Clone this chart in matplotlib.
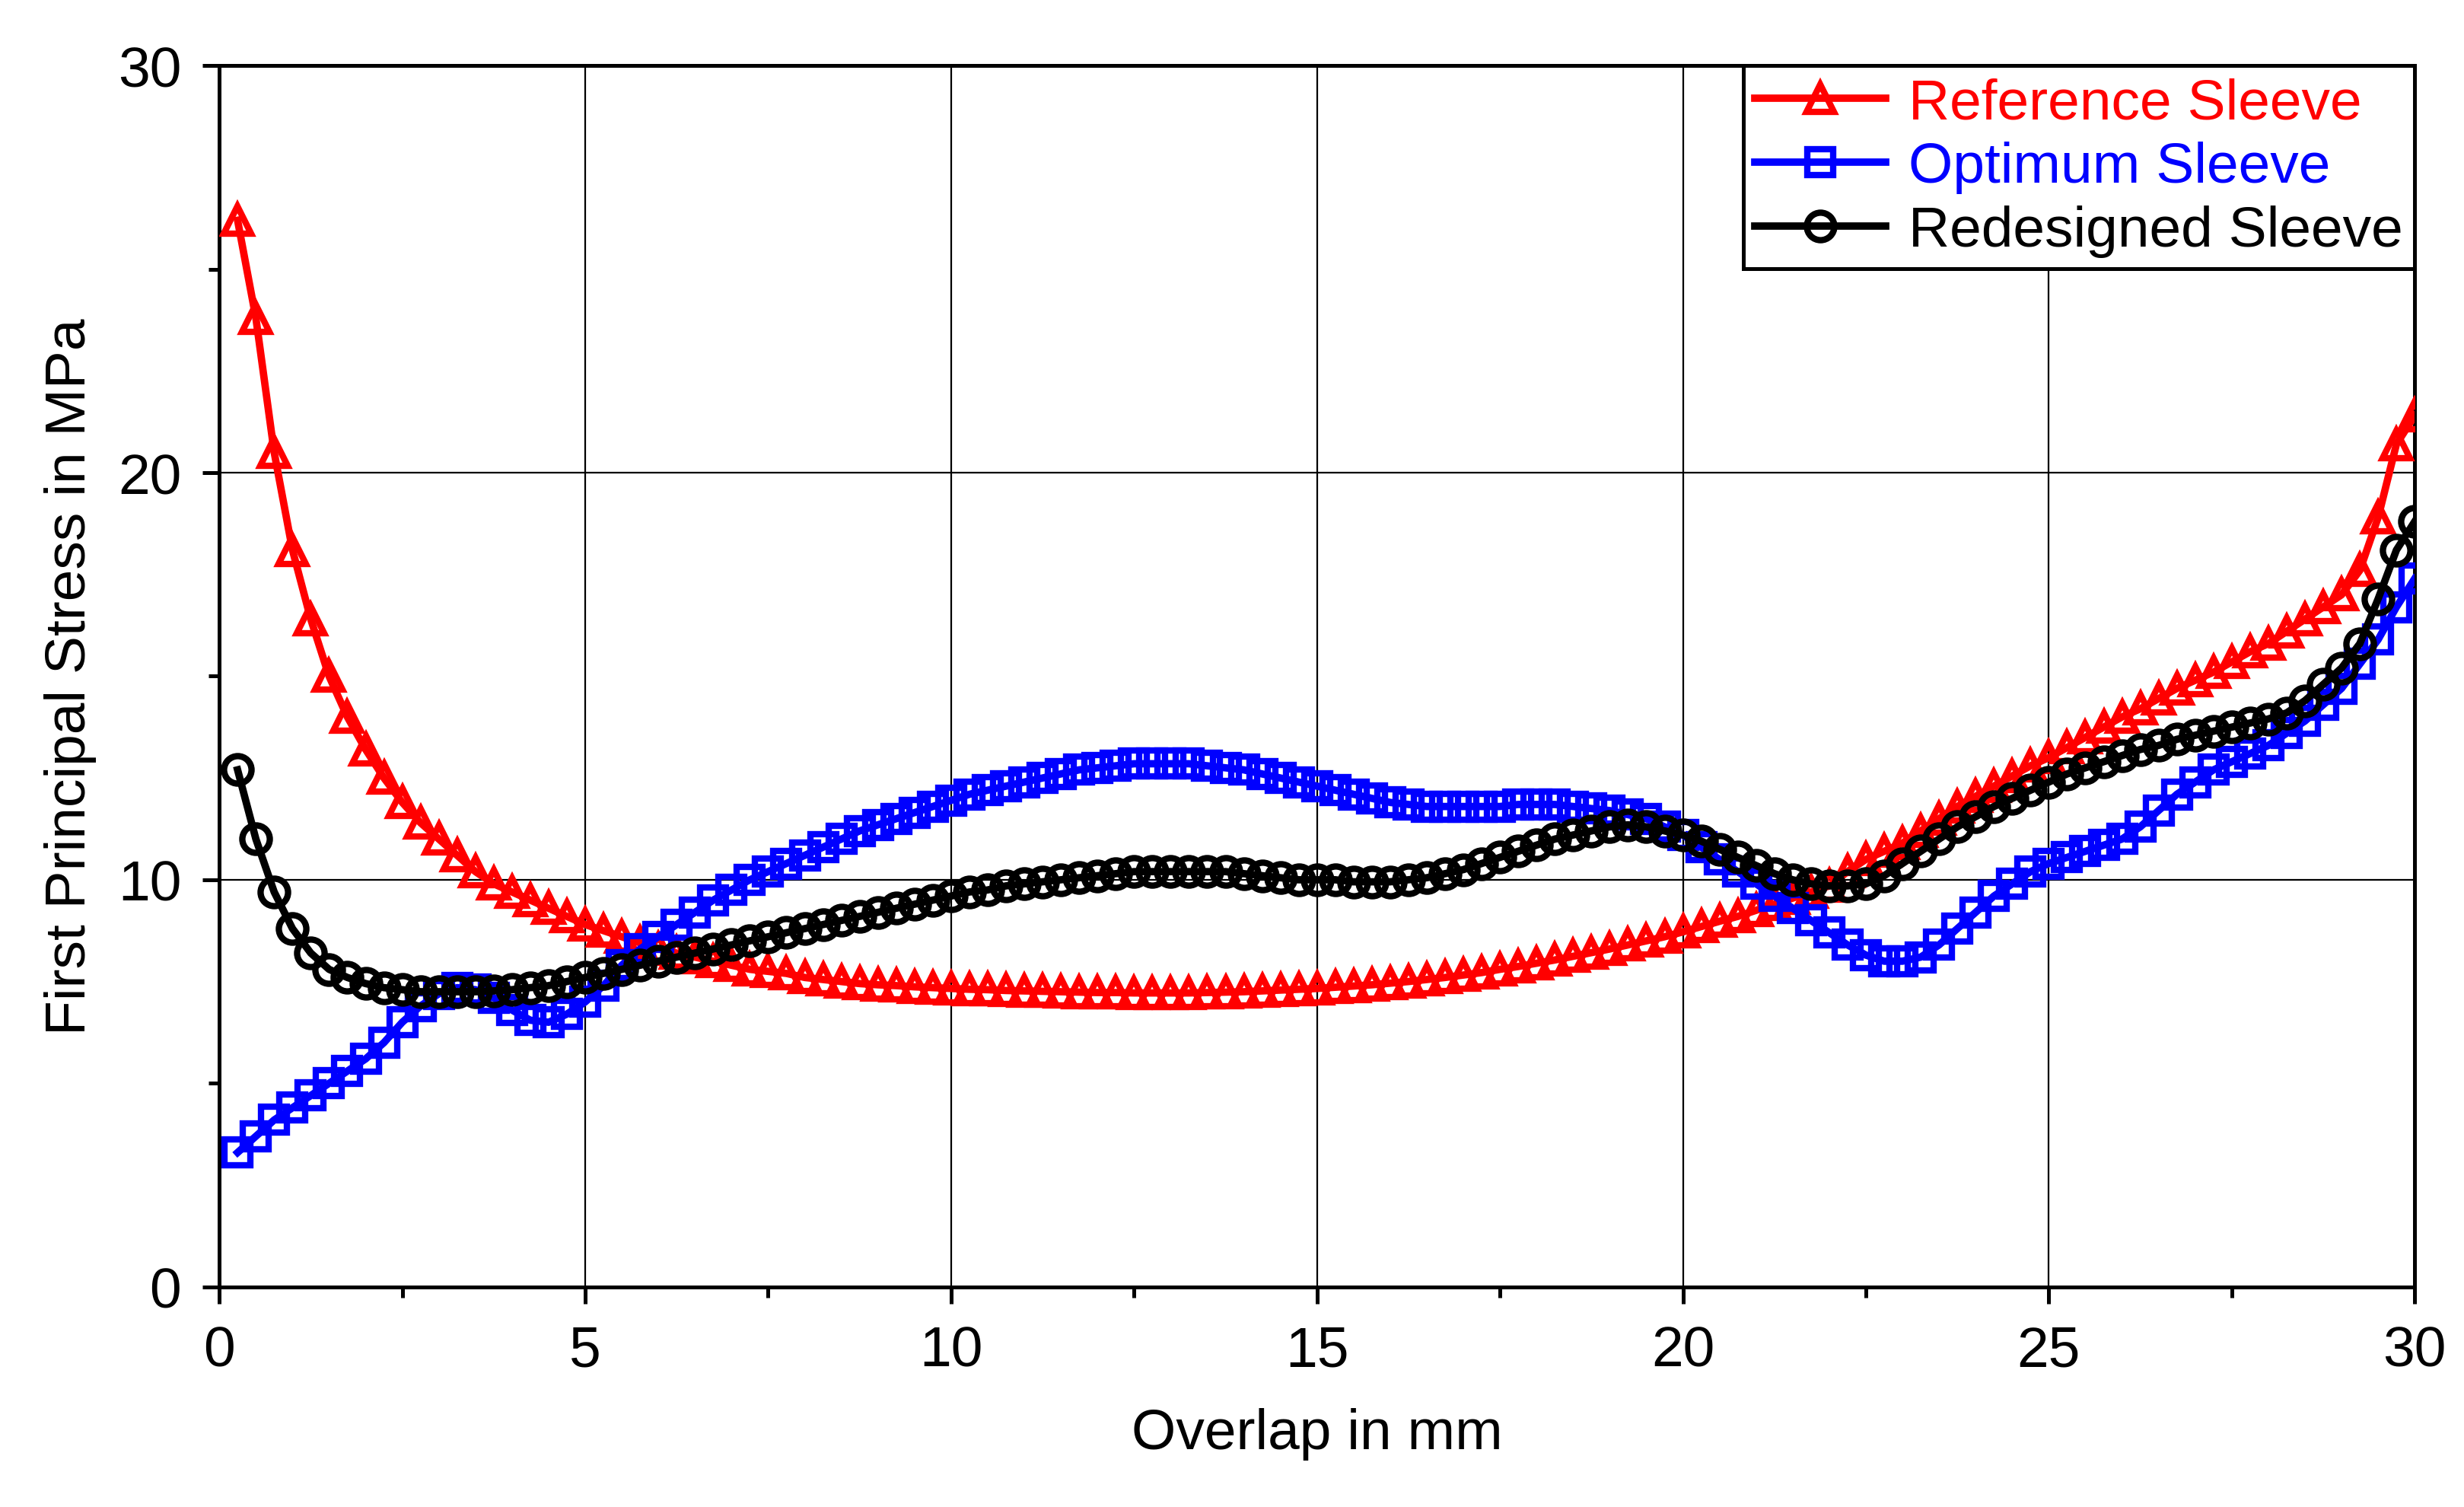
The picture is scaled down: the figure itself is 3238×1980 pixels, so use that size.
import numpy as np
import matplotlib
matplotlib.use("Agg")
import matplotlib.pyplot as plt
from matplotlib.ticker import MultipleLocator

plt.rcParams["font.family"] = "Liberation Sans"

# overlap positions, 0.25 mm spacing
overlap = np.arange(1, 121) * 0.25

reference = [
    26.2, 23.8, 20.5, 18.1, 16.4, 15.0, 14.0, 13.2,
    12.5, 11.9, 11.4, 11.0, 10.6, 10.2, 9.9, 9.7,
    9.5, 9.3, 9.1, 8.9, 8.75, 8.6, 8.45, 8.3,
    8.2, 8.1, 8.0, 7.9, 7.8, 7.75, 7.7, 7.6,
    7.55, 7.5, 7.45, 7.42, 7.4, 7.37, 7.35, 7.33,
    7.31, 7.3, 7.28, 7.27, 7.26, 7.25, 7.24, 7.23,
    7.23, 7.22, 7.22, 7.22, 7.22, 7.23, 7.24, 7.25,
    7.27, 7.29, 7.31, 7.33, 7.36, 7.39, 7.42, 7.46,
    7.5, 7.55, 7.6, 7.66, 7.72, 7.8, 7.87, 7.95,
    8.03, 8.12, 8.21, 8.3, 8.4, 8.5, 8.6, 8.72,
    8.85, 8.98, 9.1, 9.25, 9.4, 9.55, 9.7, 9.85,
    10.2, 10.5, 10.7, 10.9, 11.2, 11.5, 11.8, 12.05,
    12.3, 12.55, 12.8, 13.0, 13.25, 13.5, 13.75, 14.0,
    14.2, 14.45, 14.7, 14.9, 15.1, 15.35, 15.6, 15.8,
    16.1, 16.4, 16.7, 17.0, 17.6, 18.9, 20.7, 21.4,
]

optimum = [
    3.3, 3.7, 4.1, 4.4, 4.7, 5.0, 5.3, 5.6,
    6.0, 6.5, 6.9, 7.2, 7.35, 7.3, 7.1, 6.8,
    6.55, 6.5, 6.7, 7.0, 7.4, 7.9, 8.3, 8.6,
    8.9, 9.2, 9.5, 9.75, 10.0, 10.2, 10.4, 10.6,
    10.8, 11.0, 11.2, 11.35, 11.5, 11.65, 11.8, 11.95,
    12.1, 12.2, 12.3, 12.4, 12.5, 12.6, 12.7, 12.75,
    12.8, 12.85, 12.85, 12.85, 12.85, 12.8, 12.75, 12.7,
    12.6, 12.5, 12.4, 12.3, 12.2, 12.1, 12.0, 11.9,
    11.85, 11.8, 11.8, 11.8, 11.8, 11.8, 11.85, 11.85,
    11.85, 11.8, 11.75, 11.7, 11.6, 11.5, 11.3, 11.1,
    10.8, 10.5, 10.2, 9.9, 9.6, 9.3, 9.0, 8.7,
    8.4, 8.15, 8.0, 8.0, 8.1, 8.4, 8.8, 9.2,
    9.6, 9.9, 10.2, 10.4, 10.55, 10.7, 10.85, 11.0,
    11.3, 11.7, 12.1, 12.4, 12.7, 12.9, 13.1, 13.3,
    13.6, 13.9, 14.3, 14.7, 15.3, 15.9, 16.7, 17.4,
]

redesigned = [
    12.7, 11.0, 9.7, 8.8, 8.2, 7.8, 7.6, 7.45,
    7.35, 7.3, 7.25, 7.25, 7.25, 7.25, 7.27, 7.3,
    7.35, 7.4, 7.5, 7.6, 7.7, 7.8, 7.9, 8.0,
    8.1, 8.2, 8.3, 8.4, 8.5, 8.6, 8.7, 8.8,
    8.9, 9.0, 9.1, 9.2, 9.3, 9.4, 9.5, 9.6,
    9.7, 9.75, 9.85, 9.9, 9.95, 10.0, 10.05, 10.1,
    10.15, 10.2, 10.2, 10.2, 10.2, 10.2, 10.2, 10.15,
    10.1, 10.05, 10.0, 10.0, 10.0, 9.95, 9.95, 9.95,
    10.0, 10.05, 10.15, 10.25, 10.4, 10.55, 10.7, 10.85,
    11.0, 11.1, 11.2, 11.3, 11.35, 11.3, 11.2, 11.1,
    10.95, 10.75, 10.55, 10.35, 10.15, 10.0, 9.9, 9.85,
    9.85, 9.9, 10.1, 10.4, 10.7, 11.0, 11.3, 11.55,
    11.8, 12.0, 12.2, 12.4, 12.6, 12.75, 12.9, 13.05,
    13.2, 13.3, 13.45, 13.55, 13.65, 13.75, 13.85, 13.95,
    14.1, 14.4, 14.8, 15.2, 15.8, 16.9, 18.1, 18.8,
]

fig = plt.figure(figsize=(16.19, 9.905), dpi=200)
ax = fig.add_axes([0.089, 0.146, 0.891, 0.81])

ms = 13
ax.plot(overlap, reference, "-^", color="red", lw=3.5, ms=ms, mfc="none", mew=3,
        label="Reference Sleeve", zorder=3)
ax.plot(overlap, optimum, "-s", color="blue", lw=3.5, ms=ms - 1, mfc="none", mew=3,
        label="Optimum Sleeve", zorder=3)
ax.plot(overlap, redesigned, "-o", color="black", lw=3.5, ms=ms, mfc="none", mew=3,
        label="Redesigned Sleeve", zorder=4)

ax.set_xlim(0, 30)
ax.set_ylim(0, 30)
ax.xaxis.set_major_locator(MultipleLocator(5))
ax.xaxis.set_minor_locator(MultipleLocator(2.5))
ax.yaxis.set_major_locator(MultipleLocator(10))
ax.yaxis.set_minor_locator(MultipleLocator(5))
ax.grid(True, which="major", color="black", lw=0.8)
ax.tick_params(which="major", labelsize=27, length=8, width=1.8, pad=10)
ax.tick_params(which="minor", length=5, width=1.8)
for s in ax.spines.values():
    s.set_linewidth(1.8)

ax.set_xlabel("Overlap in mm", fontsize=27, labelpad=14)
ax.set_ylabel("First Principal Stress in MPa", fontsize=27, labelpad=10)

leg = ax.legend(loc="upper right", fontsize=27, frameon=True, fancybox=False,
                edgecolor="black", framealpha=1, borderaxespad=0,
                handlelength=2.3, handletextpad=0.4, labelspacing=0.2,
                borderpad=0.2)
leg.get_frame().set_linewidth(1.8)
for txt, c in zip(leg.get_texts(), ["red", "blue", "black"]):
    txt.set_color(c)

fig.savefig("out.png", dpi=200)
